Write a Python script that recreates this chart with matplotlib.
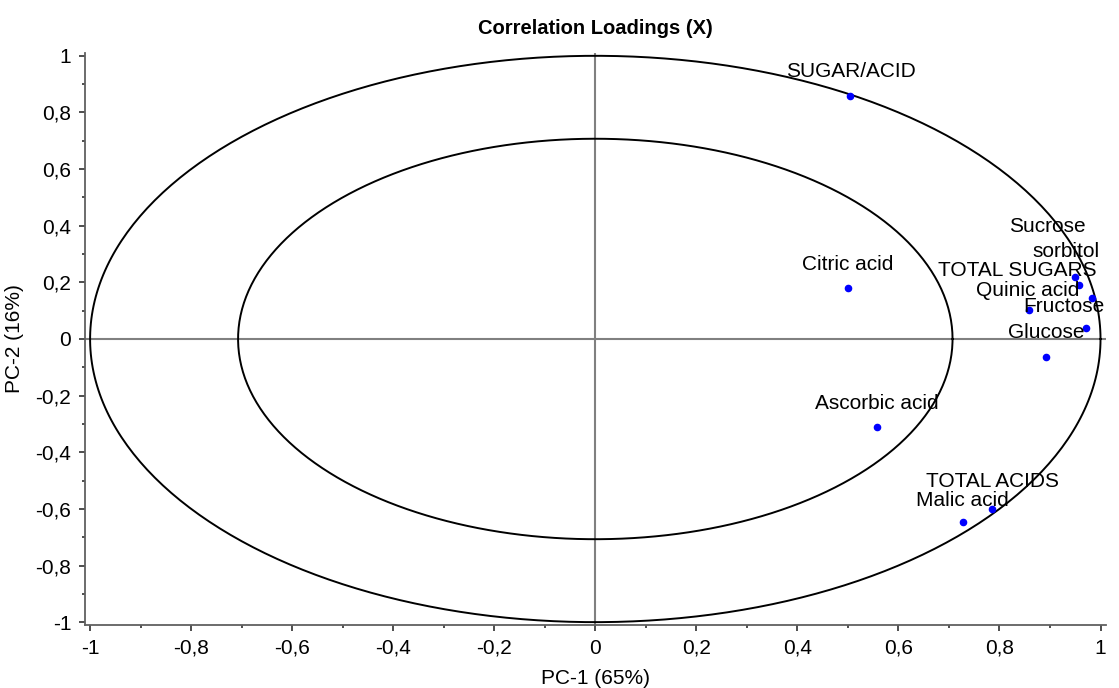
import numpy as np
import matplotlib.pyplot as plt
from matplotlib.ticker import MultipleLocator, FuncFormatter

plt.rcParams['font.family'] = ['Liberation Sans', 'DejaVu Sans']

# loadings
names = ['SUGAR/ACID', 'Citric acid', 'Ascorbic acid', 'Malic acid', 'TOTAL ACIDS',
         'sorbitol', 'Sucrose', 'TOTAL SUGARS', 'Quinic acid', 'Fructose', 'Glucose']
pc1 = [0.505, 0.500, 0.558, 0.727, 0.786, 0.950, 0.958, 0.984, 0.859, 0.971, 0.892]
pc2 = [0.859, 0.180, -0.311, -0.646, -0.601, 0.219, 0.191, 0.145, 0.102, 0.039, -0.063]

# label shifts in pixels (labels pushed inside the frame / apart)
shift = {'Sucrose': (-32, 58), 'sorbitol': (-9, 25), 'TOTAL SUGARS': (-75, 27),
         'Quinic acid': (-2, 20), 'Fructose': (-22, 21),
         'TOTAL ACIDS': (0, 28), 'Malic acid': (0, 21)}

fig = plt.figure(figsize=(11.19, 6.88), dpi=100)
ax = fig.add_axes([0.076, 0.0916, 0.912, 0.8314])
ax.set_xlim(-1.01, 1.01)
ax.set_ylim(-1.01, 1.01)

t = np.linspace(0, 2 * np.pi, 400)
for r in [1.0, np.sqrt(0.5)]:
    ax.plot(r * np.cos(t), r * np.sin(t), color='black', lw=1.4, zorder=2)

ax.axhline(0, color='#808080', lw=1.5, zorder=1)
ax.axvline(0, color='#808080', lw=1.5, zorder=1)

ax.scatter(pc1, pc2, s=20, color='#0000ff', zorder=3)
for n, x, y in zip(names, pc1, pc2):
    dx, dy = shift.get(n, (0, 24))
    ax.annotate(n, (x, y), xytext=(dx, dy), textcoords='offset pixels',
                ha='center', va='center', fontsize=15, color='black', zorder=4)

for s in ['top', 'right']:
    ax.spines[s].set_visible(False)
for s in ['left', 'bottom']:
    ax.spines[s].set_color('#606060')
    ax.spines[s].set_linewidth(1.3)

fmt = FuncFormatter(lambda v, p: ('%g' % round(v, 1)).replace('.', ','))
for a in [ax.xaxis, ax.yaxis]:
    a.set_major_locator(MultipleLocator(0.2))
    a.set_minor_locator(MultipleLocator(0.1))
    a.set_major_formatter(fmt)
ax.tick_params(which='major', length=4, width=1.2, labelsize=15, pad=6, color='#303030')
ax.tick_params(which='minor', length=2.5, width=1.2, color='#303030')

ax.set_title('Correlation Loadings (X)', fontsize=14.5, fontweight='bold', pad=14)
ax.set_xlabel('PC-1 (65%)', fontsize=15, labelpad=8)
ax.set_ylabel('PC-2 (16%)', fontsize=15, labelpad=8)

fig.savefig('out.png', dpi=100)
